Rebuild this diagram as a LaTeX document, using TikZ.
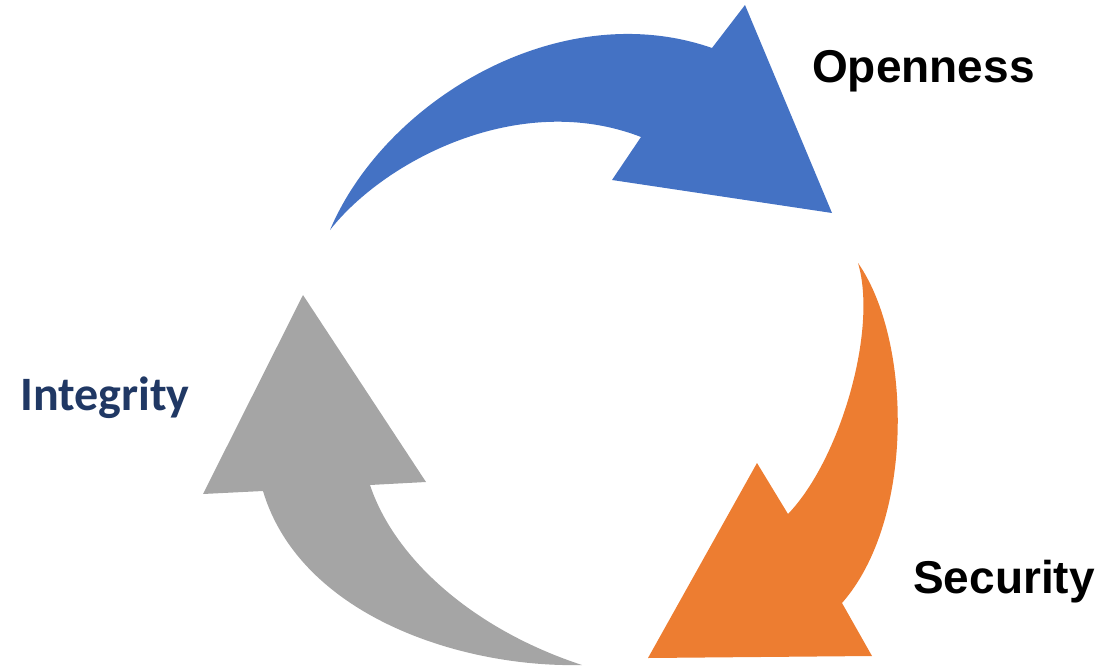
\documentclass[tikz,border=0pt]{standalone}
\usepackage{fontspec}
\setmainfont{Liberation Sans}
\newfontfamily\carlito{Carlito}
\usepackage{xcolor}
\usepackage{tikz}
\usetikzlibrary{calc, positioning}

\definecolor{cycblue}{HTML}{4472C4}
\definecolor{cycorange}{HTML}{ED7D31}
\definecolor{cycgrey}{HTML}{A5A5A5}
\definecolor{cycnavy}{HTML}{203864}

\begin{document}
\begin{tikzpicture}[x=1pt, y=-1pt,
    lbl/.style={anchor=base west, inner sep=0pt, font=\fontsize{46}{50}\selectfont\bfseries}]
    \useasboundingbox (0,0) rectangle (1105,666);
    % blue arrow, top
    \fill[cycblue] (330,230) .. controls (385,100) and (560,-5) .. (712,48)
    -- (745,5) -- (832,213) -- (612,180) -- (641,137)
    .. controls (520,90) and (385,160) .. (330,230) -- cycle;
    % orange arrow, right
    \fill[cycorange] (858,263) .. controls (912,340) and (915,520) .. (842,603)
    -- (872,656) -- (648,658) -- (757,463) -- (788,514)
    .. controls (840,460) and (878,330) .. (858,263) -- cycle;
    % grey arrow, left
    \fill[cycgrey] (303,295) -- (426,482) -- (370,485)
    .. controls (395,560) and (475,630) .. (582,665)
    .. controls (460,668) and (300,615) .. (263,491)
    -- (203,494) -- cycle;
    \node (open) [lbl] at (812,83) {Openness};
    \node (sec) [lbl] at (913,593) {Security};
    \node (integ) [lbl, text=cycnavy, font=\fontsize{48}{52}\selectfont\bfseries\carlito] at (20,410) {Integrity};
  \end{tikzpicture}
\end{document}
